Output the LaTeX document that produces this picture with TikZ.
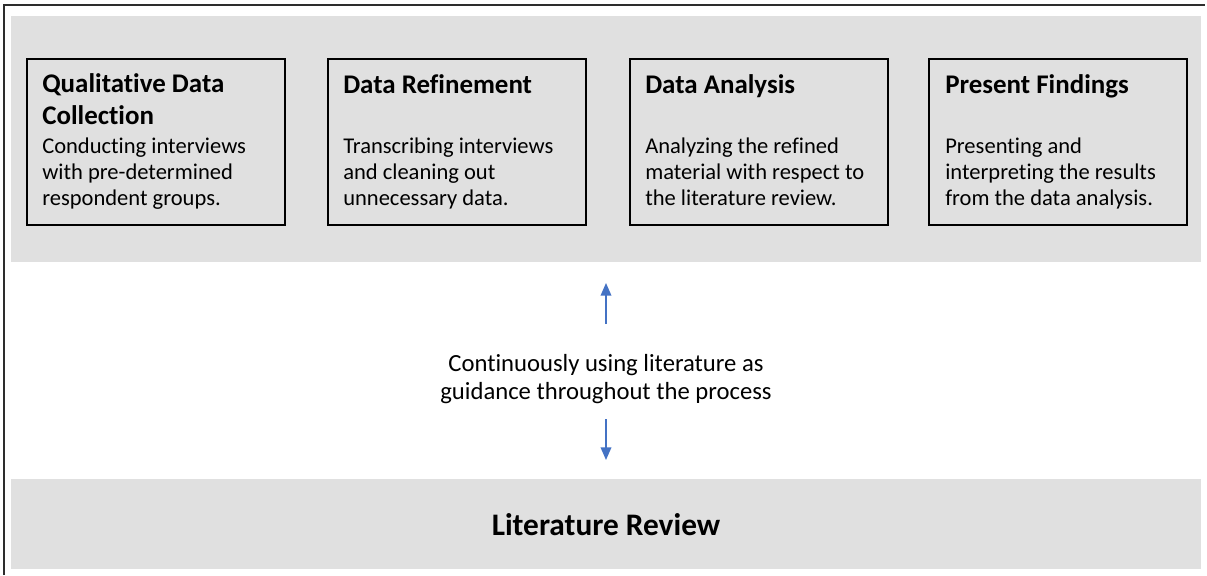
\documentclass[tikz,border=0pt]{standalone}
\usepackage{fontspec}
\setmainfont{Carlito}[Ligatures={NoCommon}]
\usetikzlibrary{arrows.meta}
\definecolor{panelgray}{RGB}{224,224,224}
\definecolor{guideblue}{RGB}{68,114,196}
\definecolor{framegray}{RGB}{45,45,45}

\begin{document}
\begin{tikzpicture}[x=0.75pt,y=-0.75pt,
  panelbox/.style={fill=panelgray, draw=none, inner sep=0pt, anchor=north west},
  stepbox/.style={draw=black, line width=1.25pt, fill=panelgray, inner sep=0pt,
    anchor=north west, minimum width=193.5pt, minimum height=124.5pt},
  steptitle/.style={anchor=base west, inner sep=0pt, align=left,
    font=\fontsize{20.2}{23.3}\selectfont\bfseries},
  stepbody/.style={anchor=base west, inner sep=0pt, align=left,
    font=\fontsize{16.9}{19.3}\selectfont},
  guide/.style={guideblue, line width=1.1pt, -{Triangle[length=9.5pt,width=8pt]}}
]
\useasboundingbox (0,0) rectangle (1207,575);

% outer frame (top and left edges)
\draw[framegray, line width=1.2pt] (4,575) -- (4,5) -- (1205,5);

% background panels
\node[panelbox, minimum width=892.5pt, minimum height=184.5pt] (process) at (11,16) {};
\node[panelbox, minimum width=892.5pt, minimum height=67.5pt] (litpanel) at (11,479) {};

% process steps
\node[stepbox] (s1) at (26,58) {};
\node[stepbox] (s2) at (327,58) {};
\node[stepbox] (s3) at (629,58) {};
\node[stepbox] (s4) at (928,58) {};

% titles (anchored at the baseline of their last line)
\node[steptitle] (t1) at (42,124) {Qualitative Data\\Collection};
\node[steptitle] (t2) at (343,93) {Data Refinement};
\node[steptitle] (t3) at (645,93) {Data Analysis};
\node[steptitle] (t4) at (945,93) {Present Findings};

% descriptions (anchored at the baseline of their last line)
\node[stepbody] (d1) at (42,205) {Conducting interviews\\with pre-determined\\respondent groups.};
\node[stepbody] (d2) at (343,205) {Transcribing interviews\\and cleaning out\\unnecessary data.};
\node[stepbody] (d3) at (645,205) {Analyzing the refined\\material with respect to\\the literature review.};
\node[stepbody] (d4) at (945,205) {Presenting and\\interpreting the results\\from the data analysis.};

% guidance text and arrows
\node[inner sep=0pt, anchor=base, align=center,
  font=\fontsize{18.5}{21}\selectfont] (guidetext) at (606,399)
  {Continuously using literature as\\guidance throughout the process};

\coordinate (upTail) at (606,324);
\coordinate (upTip) at (606,283);
\coordinate (downTail) at (606,419);
\coordinate (downTip) at (606,460);
\draw[guide] (upTail) -- (upTip);
\draw[guide] (downTail) -- (downTip);

% literature review band
\node[inner sep=0pt, anchor=base, font=\fontsize{23.5}{26}\selectfont\bfseries] (litrev)
  at (606,535) {Literature Review};
\end{tikzpicture}
\end{document}
